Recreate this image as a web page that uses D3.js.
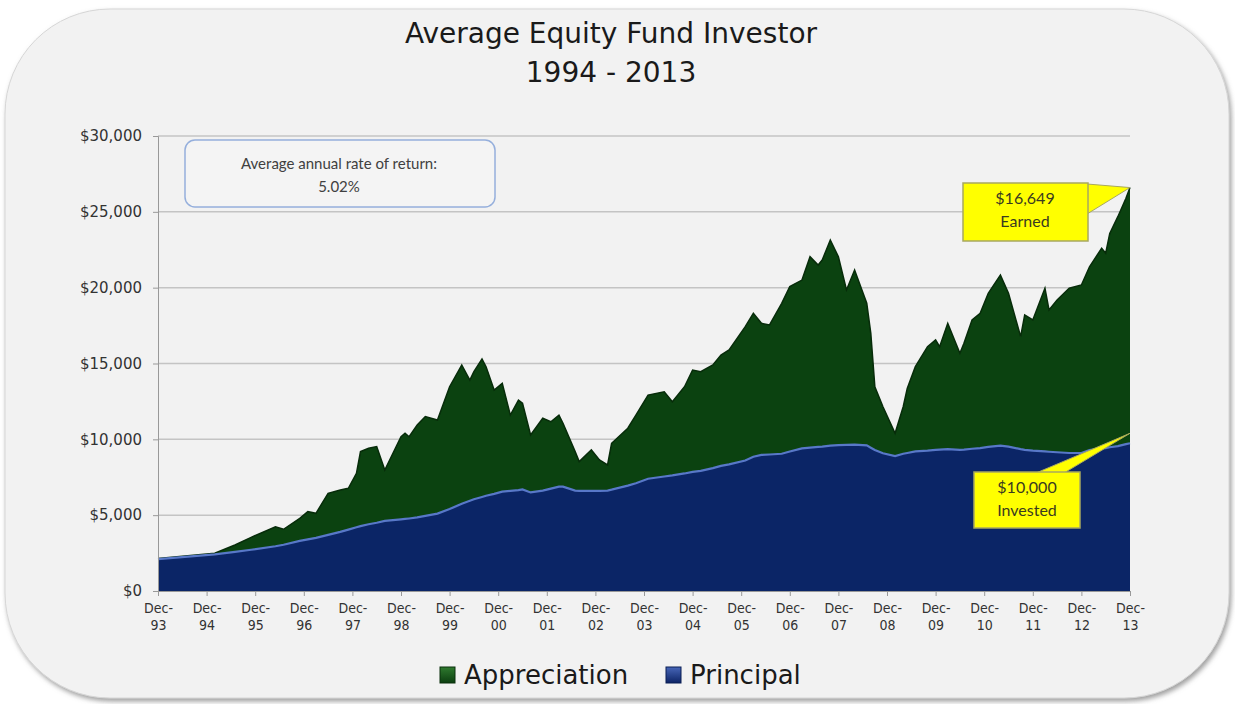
<!DOCTYPE html>
<html><head><meta charset="utf-8">
<script src="https://cdn.jsdelivr.net/npm/d3@7"></script>
<style>body{margin:0;background:#fff;} svg{display:block;}</style>
</head><body>
<svg id="chart" width="1235" height="704"></svg>
<script>
// ---- data (months since Dec-93) ----
const months = [0,14,19,23,29,31,35,37,39,42,
  45,47,49,50,52,54,56,60,61,62,
  64,66,69,72,75,77,78,80,81,83,
  85,87,89,90,92,95,97,99,100,103,
  104,107,109,111,112,116,118,121,125,127,
  130,132,134,137,139,141,145,147,149,151,
  154,156,159,161,163,164,166,168,170,172,
  175,176,177,179,182,184,185,187,190,192,
  193,195,198,199,201,203,205,208,210,213,
  214,216,219,220,222,225,228,230,233,234,
  235,237,239,240];
const principal = [2100,2420,2580,2720,2950,3050,3300,3400,3500,3700,
  3900,4050,4200,4280,4400,4500,4620,4720,4750,4780,
  4850,4950,5100,5400,5750,5950,6050,6200,6280,6400,
  6550,6600,6650,6700,6500,6620,6750,6880,6880,6620,
  6600,6600,6600,6620,6680,6950,7100,7400,7550,7620,
  7750,7850,7920,8100,8250,8350,8600,8850,8970,9000,
  9050,9200,9400,9450,9500,9520,9580,9620,9630,9650,
  9600,9450,9300,9080,8900,9050,9100,9200,9250,9300,
  9320,9350,9300,9320,9380,9420,9500,9580,9520,9350,
  9300,9250,9200,9180,9150,9100,9100,9300,9420,9420,
  9480,9550,9680,9740];
const appreciation = [50,70,450,820,1290,1020,1490,1830,1620,2740,
  2760,2720,3560,4910,5010,5020,3360,5450,5650,5390,
  6090,6550,6170,8070,9150,7950,8410,9100,8510,6850,
  7140,5000,5940,5680,3790,4770,4410,4720,4180,2570,
  1930,2700,2040,1690,3060,3780,4500,5520,5590,4860,
  5720,6720,6540,6800,7310,7540,8830,9460,8680,8540,
  9920,10870,11100,12590,11990,12300,13560,12420,10220,11510,
  9370,7540,4170,3070,1500,3100,4260,5590,6860,7250,
  6790,8300,6370,7010,8490,8890,10130,11250,10110,7420,
  8900,8620,10760,9350,10040,10860,11080,12080,13180,12850,
  14100,15130,16210,16860];
const yTicks = [0,5000,10000,15000,20000,25000,30000];
const xTickMonths = [0,12,24,36,48,60,72,84,96,108,120,132,144,156,168,180,192,204,216,228,240];
const xTickLabels = ["Dec-93","Dec-94","Dec-95","Dec-96","Dec-97","Dec-98","Dec-99","Dec-00","Dec-01","Dec-02","Dec-03","Dec-04","Dec-05","Dec-06","Dec-07","Dec-08","Dec-09","Dec-10","Dec-11","Dec-12","Dec-13"];
const seriesNames = ["Appreciation","Principal"];
const titleLines = ["Average Equity Fund Investor","1994 - 2013"];

const svg = d3.select("#chart");
const defs = svg.append("defs");
const sh = defs.append("filter").attr("id","shadow").attr("x","-5%").attr("y","-5%").attr("width","110%").attr("height","110%");
sh.append("feDropShadow").attr("dx",2).attr("dy",3).attr("stdDeviation",2.5).attr("flood-color","#777").attr("flood-opacity",0.7);
const gG = defs.append("linearGradient").attr("id","gSw").attr("x1",0).attr("y1",0).attr("x2",0).attr("y2",1);
gG.append("stop").attr("offset","0%").attr("stop-color","#2f7a2f");
gG.append("stop").attr("offset","100%").attr("stop-color","#0c3f10");
const bG = defs.append("linearGradient").attr("id","bSw").attr("x1",0).attr("y1",0).attr("x2",0).attr("y2",1);
bG.append("stop").attr("offset","0%").attr("stop-color","#4766b8");
bG.append("stop").attr("offset","100%").attr("stop-color","#0d2466");

// card
svg.append("rect").attr("x",5).attr("y",9).attr("width",1224).attr("height",689)
  .attr("rx",105).attr("ry",105).attr("fill","#f2f2f2").attr("stroke","#d6d6d6").attr("filter","url(#shadow)");

// title
svg.append("g").selectAll("text").data(titleLines).join("text")
  .attr("x",611).attr("y",(d,i)=>43+i*39).attr("text-anchor","middle")
  .attr("font-family","DejaVu Sans").attr("font-size",28).attr("fill","#1a1a1a").text(d=>d);

const x = d3.scaleLinear().domain([0,240]).range([158,1130]);
const y = d3.scaleLinear().domain([0,30000]).range([591,136]);

// gridlines
svg.append("g").selectAll("line").data(yTicks.filter(t=>t>0)).join("line")
  .attr("x1",x(0)).attr("x2",x(240)).attr("y1",d=>y(d)).attr("y2",d=>y(d))
  .attr("stroke","#c4c4c4").attr("stroke-width",1.5);

// areas
const rows = months.map((m,i)=>({m, principal:principal[i], appreciation:appreciation[i]}));
const stack = d3.stack().keys(["principal","appreciation"])(rows);
const area = d3.area().x(d=>x(d.data.m)).y0(d=>y(d[0])).y1(d=>y(d[1]));
const line = d3.line().x(d=>x(d.data.m)).y(d=>y(d[1]));
svg.append("path").datum(stack[1]).attr("d",area).attr("fill","#0b4210");
svg.append("path").datum(stack[1]).attr("d",line).attr("fill","none").attr("stroke","#072c0a").attr("stroke-width",1.5);
svg.append("path").datum(stack[0]).attr("d",area).attr("fill","#0b2566");
svg.append("path").datum(stack[0]).attr("d",line).attr("fill","none").attr("stroke","#5878c8").attr("stroke-width",2.2);

// axes
const yAxis = svg.append("g").attr("transform",`translate(${x(0)},0)`)
  .call(d3.axisLeft(y).tickValues(yTicks).tickSize(5).tickPadding(11).tickFormat(d=>"$"+d3.format(",")(d)));
yAxis.select(".domain").attr("stroke","#999");
yAxis.selectAll(".tick line").attr("stroke","#999");
yAxis.selectAll("text").attr("font-family","DejaVu Sans").attr("font-size",15).attr("fill","#333");

const xAxis = svg.append("g").attr("transform",`translate(0,${y(0)})`)
  .call(d3.axisBottom(x).tickValues(xTickMonths).tickSize(5).tickFormat(""));
xAxis.select(".domain").attr("stroke","#999");
xAxis.selectAll(".tick line").attr("stroke","#999");
xAxis.selectAll(".tick").each(function(d,i){
  const parts = xTickLabels[i].split("-");
  const t = d3.select(this).append("text").attr("fill","#333").attr("font-family","DejaVu Sans Condensed")
    .attr("font-size",14).attr("text-anchor","middle");
  t.append("tspan").attr("x",0).attr("y",22).text(parts[0]+"-");
  t.append("tspan").attr("x",0).attr("y",39).text(parts[1]);
});

// rate box
svg.append("rect").attr("x",185).attr("y",140).attr("width",310).attr("height",67).attr("rx",10)
  .attr("fill","#f4f4f4").attr("stroke","#95afdc").attr("stroke-width",1.5);
svg.append("text").attr("x",339).attr("y",169).attr("text-anchor","middle").attr("font-family","Lato")
  .attr("font-size",15).attr("fill","#404040").text("Average annual rate of return:");
svg.append("text").attr("x",339).attr("y",192).attr("text-anchor","middle").attr("font-family","Lato")
  .attr("font-size",15).attr("fill","#404040").text("5.02%");

// callouts
const last = stack[1][stack[1].length-1];
const tipE = [x(last.data.m), y(last[1])];
const tipI = [x(last.data.m), y(last[0]) - 10];
svg.append("path").attr("d",`M1087,184 L${tipE[0]},${tipE[1]} L1087,214 Z`).attr("fill","#ffff00").attr("stroke","#a8a860").attr("stroke-width",1);
svg.append("rect").attr("x",963).attr("y",183).attr("width",125).attr("height",58).attr("fill","#ffff00").attr("stroke","#a8a860").attr("stroke-width",1.5);
svg.append("path").attr("d",`M1036,473 L${tipI[0]},${tipI[1]} L1064,473 Z`).attr("fill","#ffff00").attr("stroke","#a8a860").attr("stroke-width",1);
svg.append("rect").attr("x",974).attr("y",472).attr("width",106).attr("height",56).attr("fill","#ffff00").attr("stroke","#a8a860").attr("stroke-width",1.5);
svg.append("rect").attr("x",964).attr("y",184).attr("width",123).attr("height",56).attr("fill","#ffff00");
svg.append("rect").attr("x",975).attr("y",473).attr("width",104).attr("height",54).attr("fill","#ffff00");
const callText = [["$16,649",1025,204],["Earned",1025,227],["$10,000",1027,493],["Invested",1027,516]];
svg.append("g").selectAll("text").data(callText).join("text")
  .attr("x",d=>d[1]).attr("y",d=>d[2]).attr("text-anchor","middle").attr("font-family","Lato")
  .attr("font-size",16).attr("fill","#3a3a20").text(d=>d[0]);

// legend
const legX = [440, 666];
const leg = svg.append("g").selectAll("g").data(seriesNames).join("g")
  .attr("transform",(d,i)=>`translate(${legX[i]},667)`);
leg.append("rect").attr("width",15).attr("height",16).attr("fill",(d,i)=>i===0?"url(#gSw)":"url(#bSw)")
  .attr("stroke",(d,i)=>i===0?"#0a300c":"#0b1f55").attr("stroke-width",1);
leg.append("text").attr("x",24).attr("y",17).attr("font-family","DejaVu Sans").attr("font-size",26).attr("fill","#1a1a1a").text(d=>d);
</script>
</body></html>
